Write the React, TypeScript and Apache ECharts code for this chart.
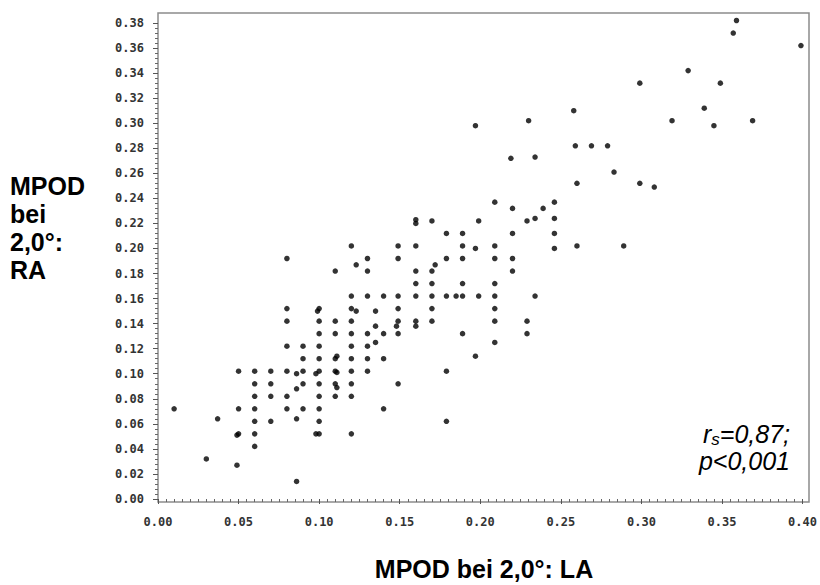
import React, { useEffect, useRef } from "react";
import * as echarts from "echarts";

// MPOD bei 2,0° – linkes Auge (LA)
const mpodLA: number[] = [
  0.010, 0.037, 0.030, 0.050, 0.050, 0.050, 0.049, 0.049,
  0.060, 0.060, 0.060, 0.060, 0.060, 0.060, 0.060,
  0.070, 0.070, 0.070, 0.070,
  0.080, 0.080, 0.080, 0.080,
  0.086, 0.086, 0.086, 0.086,
  0.090, 0.090, 0.090, 0.090, 0.090,
  0.100, 0.100, 0.100, 0.100, 0.100, 0.100, 0.100, 0.100, 0.100,
  0.098, 0.098,
  0.080, 0.080, 0.080, 0.099, 0.100, 0.100,
  0.110, 0.120, 0.130, 0.140, 0.149, 0.189,
  0.120, 0.130,
  0.135, 0.209,
  0.110, 0.111, 0.120, 0.130, 0.140, 0.197,
  0.110, 0.111, 0.120, 0.130, 0.179,
  0.110, 0.111, 0.120, 0.149,
  0.110, 0.120,
  0.140, 0.179, 0.120,
  0.229,
  0.209,
  0.160, 0.160, 0.170, 0.199,
  0.179, 0.189,
  0.120, 0.149, 0.160, 0.189, 0.197, 0.209,
  0.130, 0.149, 0.179, 0.189, 0.209,
  0.123, 0.172,
  0.110, 0.130, 0.160, 0.170,
  0.160, 0.170, 0.189, 0.209,
  0.120, 0.130, 0.140, 0.149, 0.160, 0.170, 0.179, 0.185, 0.189, 0.199, 0.209,
  0.120, 0.123, 0.135, 0.149, 0.170, 0.209,
  0.110, 0.120, 0.149, 0.160, 0.160, 0.170,
  0.135, 0.148,
  0.283, 0.260, 0.299, 0.308,
  0.246, 0.220, 0.239,
  0.229, 0.234, 0.246,
  0.220, 0.246,
  0.246, 0.260, 0.289,
  0.220, 0.220,
  0.234,
  0.209, 0.229,
  0.197, 0.230, 0.258, 0.219, 0.234, 0.259, 0.269,
  0.359, 0.357, 0.399, 0.329, 0.299, 0.349, 0.339, 0.319, 0.345, 0.369, 0.279,
];

// MPOD bei 2,0° – rechtes Auge (RA)
const mpodRA: number[] = [
  0.072, 0.064, 0.032, 0.102, 0.072, 0.052, 0.051, 0.027,
  0.102, 0.092, 0.082, 0.072, 0.062, 0.052, 0.042,
  0.102, 0.092, 0.082, 0.062,
  0.122, 0.102, 0.082, 0.072,
  0.100, 0.088, 0.064, 0.014,
  0.122, 0.112, 0.102, 0.092, 0.072,
  0.132, 0.122, 0.112, 0.102, 0.092, 0.082, 0.072, 0.062, 0.052,
  0.100, 0.052,
  0.192, 0.152, 0.142, 0.150, 0.152, 0.142,
  0.132, 0.132, 0.132, 0.132, 0.132, 0.132,
  0.122, 0.122,
  0.125, 0.125,
  0.112, 0.114, 0.112, 0.112, 0.112, 0.114,
  0.102, 0.101, 0.102, 0.102, 0.102,
  0.092, 0.089, 0.092, 0.092,
  0.082, 0.082,
  0.072, 0.062, 0.052,
  0.132,
  0.237,
  0.223, 0.220, 0.222, 0.222,
  0.212, 0.212,
  0.202, 0.202, 0.202, 0.202, 0.200, 0.202,
  0.192, 0.192, 0.192, 0.192, 0.192,
  0.187, 0.187,
  0.182, 0.182, 0.182, 0.182,
  0.172, 0.172, 0.172, 0.172,
  0.162, 0.162, 0.162, 0.162, 0.162, 0.162, 0.162, 0.162, 0.162, 0.162, 0.162,
  0.152, 0.150, 0.150, 0.152, 0.152, 0.152,
  0.142, 0.142, 0.142, 0.142, 0.138, 0.142,
  0.138, 0.138,
  0.261, 0.252, 0.252, 0.249,
  0.237, 0.232, 0.232,
  0.222, 0.224, 0.224,
  0.212, 0.212,
  0.200, 0.202, 0.202,
  0.192, 0.182,
  0.162,
  0.142, 0.142,
  0.298, 0.302, 0.310, 0.272, 0.273, 0.282, 0.282,
  0.382, 0.372, 0.362, 0.342, 0.332, 0.332, 0.312, 0.302, 0.298, 0.302, 0.282,
];

const xAxisTitle = "MPOD bei 2,0°: LA";
const yAxisTitleLines = ["MPOD", "bei", "2,0°:", "RA"];
const statLines = ["r", "s", "=0,87;", "p<0,001"];

const tickFont = {
  fontFamily: "DejaVu Sans Mono",
  fontWeight: "bold" as const,
  fontSize: 12,
  color: "#333",
};

const titleFont = {
  fontFamily: "Liberation Sans",
  fontWeight: "bold" as const,
  fontSize: 25,
  fill: "#000",
};

export default function App() {
  const ref = useRef<HTMLDivElement>(null);
  useEffect(() => {
    document.body.style.margin = "0";
    if (!ref.current) return;
    const chart = echarts.init(ref.current, undefined, { renderer: "svg" });
    const data = mpodLA.map((x, i) => [x, mpodRA[i]]);
    chart.setOption({
      animation: false,
      backgroundColor: "#fff",
      grid: [
        { left: 158, top: 23, width: 649, height: 476, show: false },
        {
          left: 158,
          top: 13,
          width: 651,
          height: 489,
          show: true,
          borderColor: "#8c8c8c",
          borderWidth: 1.5,
          backgroundColor: "transparent",
        },
      ],
      xAxis: [
        {
          gridIndex: 0,
          type: "value",
          min: 0,
          max: 0.4,
          interval: 0.05,
          offset: 3,
          axisLine: { show: false },
          axisTick: { show: true, length: 5, lineStyle: { color: "#555", width: 1 } },
          minorTick: { show: true, splitNumber: 10, length: 3, lineStyle: { color: "#666", width: 1 } },
          splitLine: { show: false },
          minorSplitLine: { show: false },
          axisLabel: { ...tickFont, margin: 14, formatter: (v: number) => v.toFixed(2) },
        },
        { gridIndex: 1, type: "value", show: false, min: 0, max: 1 },
      ],
      yAxis: [
        {
          gridIndex: 0,
          type: "value",
          min: 0,
          max: 0.38,
          interval: 0.02,
          axisLine: { show: false },
          axisTick: { show: true, length: 5, lineStyle: { color: "#555", width: 1 } },
          minorTick: { show: true, splitNumber: 5, length: 3, lineStyle: { color: "#666", width: 1 } },
          splitLine: { show: false },
          minorSplitLine: { show: false },
          axisLabel: { ...tickFont, margin: 14, formatter: (v: number) => v.toFixed(2) },
        },
        { gridIndex: 1, type: "value", show: false, min: 0, max: 1 },
      ],
      series: [
        {
          type: "scatter",
          xAxisIndex: 0,
          yAxisIndex: 0,
          data,
          symbol: "circle",
          symbolSize: 5.5,
          clip: false,
          itemStyle: { color: "#000" },
        },
      ],
      graphic: [
        {
          type: "text",
          x: 484,
          y: 569,
          style: {
            text: xAxisTitle,
            ...titleFont,
            align: "center",
            verticalAlign: "middle",
          },
        },
        {
          type: "text",
          x: 10,
          y: 172,
          style: {
            text: yAxisTitleLines.join("\n"),
            ...titleFont,
            lineHeight: 28,
            align: "left",
            verticalAlign: "top",
          },
        },
        {
          type: "text",
          x: 790,
          y: 434,
          style: {
            text: `{i|${statLines[0]}}{sub|${statLines[1]}}{i|${statLines[2]}}`,
            align: "right",
            verticalAlign: "middle",
            rich: {
              i: { fontFamily: "Liberation Sans", fontStyle: "italic", fontSize: 25, lineHeight: 24, fill: "#000" },
              sub: { fontFamily: "Liberation Sans", fontStyle: "italic", fontSize: 17, lineHeight: 16, padding: [10, 0, 0, 0], fill: "#000" },
            },
          },
        },
        {
          type: "text",
          x: 790,
          y: 461,
          style: {
            text: statLines[3],
            align: "right",
            verticalAlign: "middle",
            fontFamily: "Liberation Sans",
            fontStyle: "italic",
            fontSize: 25,
            fill: "#000",
          },
        },
      ],
    });
    return () => chart.dispose();
  }, []);
  return <div ref={ref} style={{ width: 820, height: 585 }} />;
}
